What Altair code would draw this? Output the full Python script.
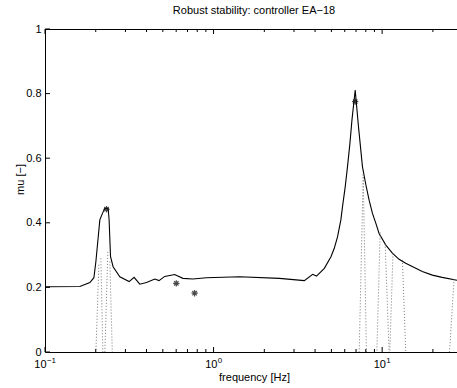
import altair as alt
import pandas as pd

# ---- data ----
freq = [0.1, 0.161, 0.1846, 0.195, 0.2004, 0.2115, 0.2195, 0.2265, 0.2368, 0.240,
        0.2448, 0.2535, 0.2779, 0.3155, 0.3377, 0.365, 0.4, 0.448, 0.4746, 0.513,
        0.5876, 0.658, 0.754, 0.906, 1.426, 2.458, 3.455, 3.87, 4.08, 4.54,
        4.97, 5.2, 5.44, 5.69, 5.82, 6.04, 6.23, 6.44, 6.62, 6.92,
        7.24, 7.64, 8.01, 8.37, 8.76, 9.18, 9.59, 10.52, 11.5, 12.6,
        13.8, 17.3, 19.85, 22.7, 27.8]
mu = [0.202, 0.203, 0.215, 0.23, 0.28, 0.409, 0.43, 0.445, 0.445, 0.41,
      0.295, 0.264, 0.233, 0.218, 0.231, 0.21, 0.215, 0.226, 0.221, 0.234,
      0.24, 0.228, 0.226, 0.23, 0.233, 0.228, 0.221, 0.2405, 0.235, 0.259,
      0.295, 0.321, 0.357, 0.409, 0.45, 0.512, 0.574, 0.646, 0.718, 0.811,
      0.697, 0.574, 0.517, 0.47, 0.429, 0.398, 0.367, 0.331, 0.306, 0.287,
      0.275, 0.249, 0.238, 0.231, 0.222]

mark_f = [0.2317, 0.601, 0.772, 6.92]
mark_mu = [0.442, 0.2127, 0.182, 0.775]

dot_f_top = [0.2087, 0.2145, 0.236, 0.2425, 7.72, 7.72, 9.73, 10.42, 11.6, 13.19, 26.7]
dot_mu_top = [0.27, 0.29, 0.31, 0.28, 0.55, 0.55, 0.37, 0.335, 0.305, 0.285, 0.225]
dot_f_bot = [0.2004, 0.2204, 0.2265, 0.2507, 7.31, 8.07, 9.30, 11.0, 11.1, 13.8, 25.1]

major_x = [0.1, 1, 10]
major_exp = ["\u22121", "0", "1"]
minor_x = [0.2, 0.3, 0.4, 0.5, 0.6, 0.7, 0.8, 0.9, 2, 3, 4, 5, 6, 7, 8, 9, 20]
y_ticks = [0, 0.2, 0.4, 0.6, 0.8, 1]

FONT = "Liberation Sans"
W, H = 412, 323

xs = alt.Scale(type="log", domain=[0.1, 27.8], nice=False)
ys = alt.Scale(domain=[0, 1], nice=False, zero=False)

curve_df = pd.DataFrame({"f": freq, "mu": mu})
mark_df = pd.DataFrame({"f": mark_f, "mu": mark_mu})
dot_df = pd.DataFrame({"f": dot_f_top, "mu": dot_mu_top, "f2": dot_f_bot})
maj_df = pd.DataFrame({"f": major_x})
min_df = pd.DataFrame({"f": minor_x})
yt_df = pd.DataFrame({"v": y_ticks})

line = alt.Chart(curve_df).mark_line(color="black", strokeWidth=1.1).encode(
    x=alt.X("f:Q", scale=xs,
            axis=alt.Axis(title="frequency [Hz]", labels=False, ticks=False, grid=False,
                          domainColor="black", domainWidth=1,
                          titleFont=FONT, titleFontSize=11, titleFontWeight="normal",
                          titleColor="black", titleX=209, titleY=25,
                          titleBaseline="middle", titleAlign="center")),
    y=alt.Y("mu:Q", scale=ys,
            axis=alt.Axis(title="mu [\u2212]", values=y_ticks, ticks=False, grid=False,
                          domainColor="black", domainWidth=1,
                          labelFont=FONT, labelFontSize=11, labelColor="black",
                          labelPadding=4, labelBaseline="middle",
                          labelExpr="datum.value == 0 ? '0' : datum.value == 1 ? '1' : format(datum.value, '.1f')",
                          titleFont=FONT, titleFontSize=11, titleFontWeight="normal",
                          titleColor="black", titleX=-25, titleY=150,
                          titleBaseline="middle", titleAlign="center", titleAngle=-90)),
)

dots = alt.Chart(dot_df).mark_rule(color="#777", strokeWidth=1, strokeDash=[1, 2]).encode(
    x=alt.X("f:Q", scale=xs), y=alt.Y("mu:Q", scale=ys),
    x2="f2:Q", y2=alt.datum(0),
)

star = "M-1,0L1,0M0,-1L0,1M-0.7,-0.7L0.7,0.7M-0.7,0.7L0.7,-0.7"
points = alt.Chart(mark_df).mark_point(shape=star, size=40, filled=False,
                                       color="black", strokeWidth=1.2).encode(
    x=alt.X("f:Q", scale=xs), y=alt.Y("mu:Q", scale=ys),
)

top_border = alt.Chart(maj_df).mark_rule(color="black", strokeWidth=1).encode(
    x=alt.value(0), x2=alt.value(W), y=alt.value(0.5),
)

def xticks(df, y0, y1):
    return alt.Chart(df).mark_rule(color="black", strokeWidth=1).encode(
        x=alt.X("f:Q", scale=xs), y=alt.value(y0), y2=alt.value(y1))

tick_layers = [
    xticks(maj_df, H, H - 5), xticks(min_df, H, H - 3),
    xticks(maj_df, 0, 5), xticks(min_df, 0, 3),
    alt.Chart(yt_df).mark_rule(color="black", strokeWidth=1).encode(
        y=alt.Y("v:Q", scale=ys), x=alt.value(0), x2=alt.value(5)),
]

label_layers = []
for val, ex in zip(major_x, major_exp):
    ew = 4.5 * len(ex)
    base_right = (12.2 + ew) / 2 - ew
    d = pd.DataFrame({"f": [val], "t": ["10"], "e": [ex]})
    label_layers.append(alt.Chart(d).mark_text(
        font=FONT, fontSize=11, align="right", baseline="middle", dx=base_right, color="black"
    ).encode(x=alt.X("f:Q", scale=xs), y=alt.value(H + 13), text="t:N"))
    label_layers.append(alt.Chart(d).mark_text(
        font=FONT, fontSize=8, align="left", baseline="middle", dx=base_right + 0.3, color="black"
    ).encode(x=alt.X("f:Q", scale=xs), y=alt.value(H + 8.5), text="e:N"))

chart = alt.layer(line, dots, points, top_border, *tick_layers, *label_layers).properties(
    width=W, height=H,
    title=alt.TitleParams("Robust stability: controller EA\u221218", font=FONT, fontSize=11,
                          fontWeight="normal", color="black", offset=7, dx=3),
    autosize=alt.AutoSizeParams(type="none"),
    padding={"left": 45, "top": 29, "right": 0, "bottom": 36},
    background="white",
).configure_view(stroke=None)

chart.save("out.html", embed_options={"renderer": "svg", "actions": False})
